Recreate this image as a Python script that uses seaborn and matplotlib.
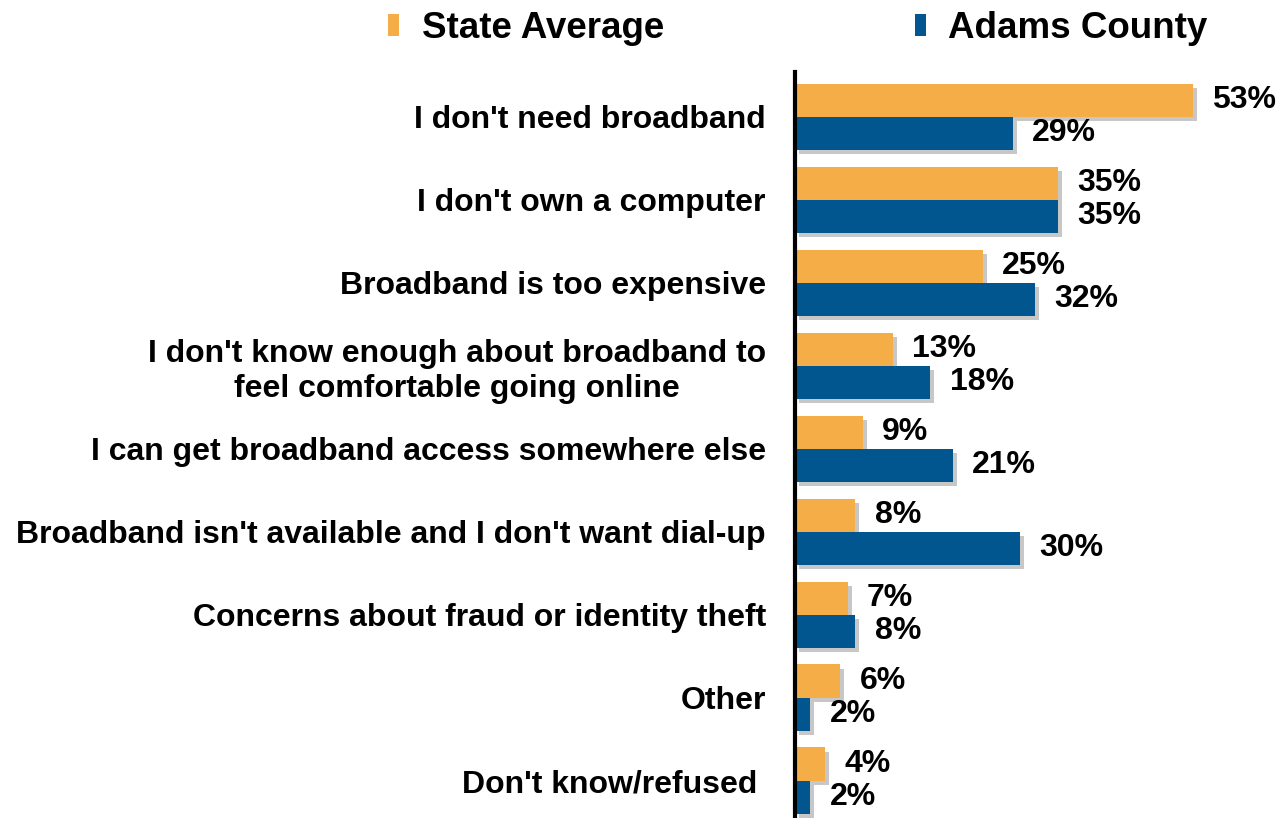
import matplotlib
matplotlib.use("Agg")
import matplotlib.pyplot as plt
import matplotlib.patheffects as pe
from matplotlib.patches import Patch
import seaborn as sns
import pandas as pd

# respuestas y porcentajes
razones = [
    "I don't need broadband",
    "I don't own a computer",
    "Broadband is too expensive",
    "I don't know enough about broadband to\nfeel comfortable going online",
    "I can get broadband access somewhere else",
    "Broadband isn't available and I don't want dial-up",
    "Concerns about fraud or identity theft",
    "Other",
    "Don't know/refused ",
]
estado = [53, 35, 25, 13, 9, 8, 7, 6, 4]
adams = [29, 35, 32, 18, 21, 30, 8, 2, 2]
series = ["State Average", "Adams County"]
colores = ["#F5AD47", "#02568F"]

datos = pd.DataFrame({
    "razon": razones * 2,
    "valor": estado + adams,
    "serie": [series[0]] * len(razones) + [series[1]] * len(razones),
})

sns.set_style("white")
plt.rcParams["font.family"] = ["Liberation Sans", "DejaVu Sans"]
plt.rcParams["font.weight"] = "bold"
plt.rcParams["text.color"] = "black"
plt.rcParams["ytick.color"] = "black"

fig = plt.figure(figsize=(12.77, 8.18), dpi=100)
ax = fig.add_axes([795 / 1277, 0, 1 - 795 / 1277, 1 - 72 / 818])

sns.barplot(data=datos, x="valor", y="razon", hue="serie", orient="h",
            palette=colores, width=0.8, ax=ax, legend=False, saturation=1,
            linewidth=0, edgecolor="none")

sombra = [pe.SimplePatchShadow(offset=(3, -3), shadow_rgbFace="#999999", alpha=0.55), pe.Normal()]
for cont in ax.containers:
    for barra in cont:
        barra.set_path_effects(sombra)
    ax.bar_label(cont, labels=[f"{int(v)}%" for v in cont.datavalues], padding=14,
                 fontsize=23, fontweight="bold", color="black")

ax.set_xlim(0, 64.2)
ax.set_ylim(8.45, -0.54)
ax.set_xlabel("")
ax.set_ylabel("")
ax.set_xticks([])
ax.tick_params(axis="y", length=0, pad=21, labelsize=23, labelcolor="black")
for lab in ax.get_yticklabels():
    lab.set_fontweight("bold")
    lab.set_multialignment("center")

for lado in ["top", "right", "bottom"]:
    ax.spines[lado].set_visible(False)
ax.spines["left"].set_color("black")
ax.spines["left"].set_linewidth(3)

manijas = [Patch(facecolor=c, edgecolor="none") for c in colores]
fig.legend(manijas, series, loc="upper left", bbox_to_anchor=(355 / 1277, 1.027), ncol=2,
           frameon=False, prop={"size": 26.5, "weight": "bold"}, handlelength=0.3,
           handleheight=0.55, handletextpad=0.62, columnspacing=6.8)

plt.savefig("out.png", dpi=100)
